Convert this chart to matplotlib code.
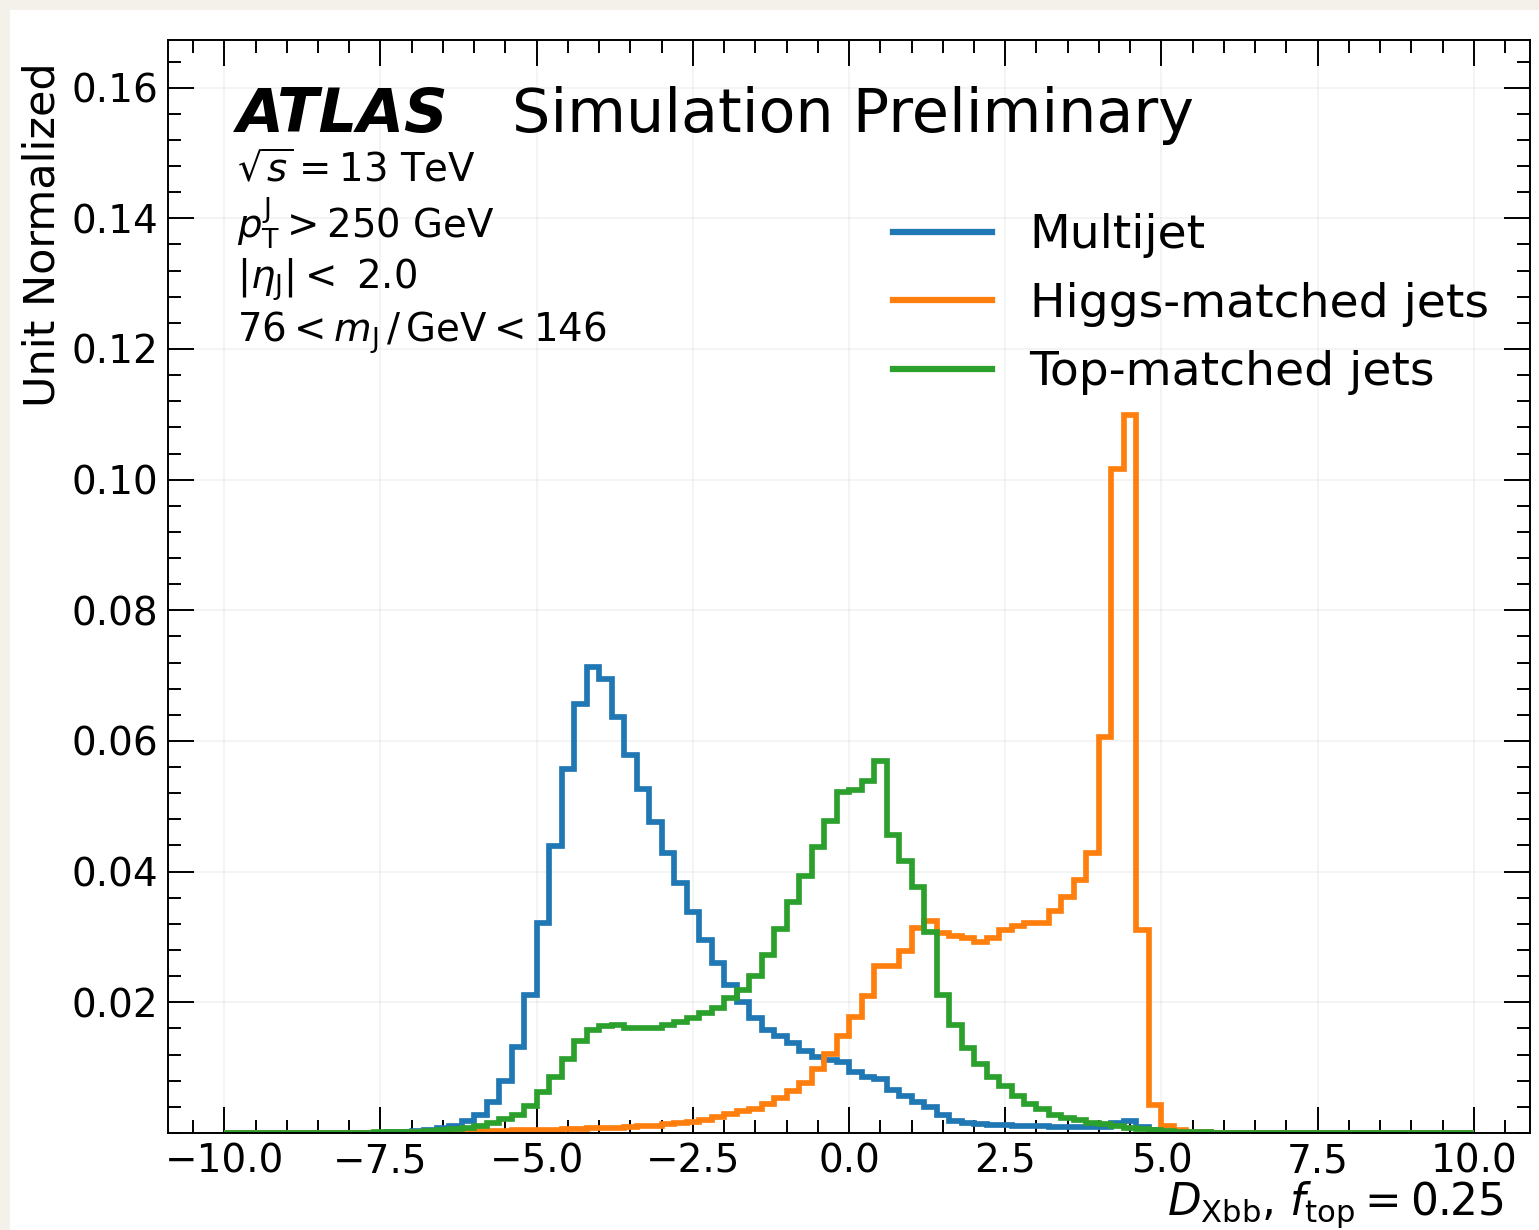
"""
D_Xbb discriminant distributions for multijet, Higgs- and top-matched jets.
"""

import numpy as np
import matplotlib
matplotlib.use("Agg")
import matplotlib.pyplot as plt
from matplotlib.ticker import MultipleLocator
from matplotlib.patches import Rectangle

# 100 bins of width 0.2 between -10 and 10 (unit normalized, sum = 1)
bin_lo, bin_hi, n_bins = -10.0, 10.0, 100

multijet = [
    0, 0, 0, 0, 0, 0, 0, 0, 0, 0,
    0.00002, 0.00003, 0.00005, 0.0001, 0.0002, 0.0003, 0.0005, 0.0008, 0.0011, 0.0018,
    0.0028, 0.0048, 0.0079, 0.0132, 0.0211, 0.0321, 0.0439, 0.0557, 0.0656, 0.0713,
    0.0695, 0.0636, 0.0579, 0.0527, 0.0476, 0.0428, 0.0382, 0.0338, 0.0296, 0.0260,
    0.0226, 0.0201, 0.0176, 0.0158, 0.0148, 0.0138, 0.0126, 0.0116, 0.0111, 0.0108,
    0.0094, 0.0086, 0.0082, 0.0066, 0.0057, 0.0047, 0.0039, 0.0027, 0.0019, 0.0016,
    0.0013, 0.0012, 0.0012, 0.0011, 0.0010, 0.0010, 0.0009, 0.0009, 0.0009, 0.0009,
    0.0009, 0.0016, 0.0018, 0.0009, 0.0004, 0.0002, 0.0001, 0.00005, 0.00002, 0,
    0, 0, 0, 0, 0, 0, 0, 0, 0, 0,
    0, 0, 0, 0, 0, 0, 0, 0, 0, 0,
]

higgs = [
    0, 0, 0, 0, 0, 0, 0, 0, 0, 0,
    0.00001, 0.00002, 0.00003, 0.00004, 0.00005, 0.0001, 0.0001, 0.0002, 0.0002, 0.0002,
    0.0003, 0.0003, 0.0003, 0.0004, 0.0004, 0.0005, 0.0005, 0.0006, 0.0006, 0.0007,
    0.0007, 0.0008, 0.0009, 0.0010, 0.0011, 0.0013, 0.0015, 0.0017, 0.0020, 0.0024,
    0.0029, 0.0033, 0.0037, 0.0045, 0.0053, 0.0064, 0.0077, 0.0098, 0.0121, 0.0148,
    0.0177, 0.0209, 0.0255, 0.0255, 0.0278, 0.0313, 0.0324, 0.0306, 0.0301, 0.0298,
    0.0293, 0.0298, 0.0310, 0.0317, 0.0322, 0.0322, 0.0339, 0.0361, 0.0387, 0.0428,
    0.0606, 0.1017, 0.1099, 0.0310, 0.0043, 0.0010, 0.0004, 0.0002, 0.0001, 0.00005,
    0.00002, 0, 0, 0, 0, 0, 0, 0, 0, 0,
    0, 0, 0, 0, 0, 0, 0, 0, 0, 0,
]

top = [
    0, 0, 0, 0, 0, 0, 0, 0, 0, 0,
    0.00003, 0.00005, 0.0001, 0.0001, 0.0002, 0.0002, 0.0003, 0.0005, 0.0006, 0.0008,
    0.0011, 0.0015, 0.0021, 0.0028, 0.0042, 0.0062, 0.0085, 0.0113, 0.0140, 0.0157,
    0.0164, 0.0165, 0.0161, 0.0160, 0.0161, 0.0165, 0.0170, 0.0176, 0.0183, 0.0191,
    0.0206, 0.0219, 0.0241, 0.0273, 0.0312, 0.0354, 0.0394, 0.0438, 0.0478, 0.0522,
    0.0525, 0.0539, 0.0570, 0.0456, 0.0417, 0.0377, 0.0308, 0.0211, 0.0165, 0.0130,
    0.0106, 0.0085, 0.0072, 0.0057, 0.0044, 0.0036, 0.0028, 0.0023, 0.0020, 0.0016,
    0.0013, 0.0011, 0.0008, 0.0006, 0.0005, 0.0003, 0.0002, 0.0001, 0.0001, 0.00005,
    0.00003, 0.00002, 0.00001, 0, 0, 0, 0, 0, 0, 0,
    0, 0, 0, 0, 0, 0, 0, 0, 0, 0,
]

labels = ["Multijet", "Higgs-matched jets", "Top-matched jets"]
colors = ["#1f77b4", "#ff7f0e", "#2ca02c"]

edges = np.linspace(bin_lo, bin_hi, n_bins + 1)

fig = plt.figure(figsize=(15.39, 12.30), dpi=100, facecolor="#f3f1e9")
# white page inside the outer margin
fig.patches.append(Rectangle((10 / 1539, 0), 1, 1 - 10 / 1230,
                             transform=fig.transFigure, facecolor="white",
                             edgecolor="none", zorder=-10))

ax = fig.add_axes([0.1092, 0.0789, 0.8850, 0.8886])

for vals, lab, col in zip([multijet, higgs, top], labels, colors):
    ax.stairs(vals, edges, color=col, linewidth=4.1, label=lab)

ax.set_xlim(-10.9, 10.9)
ax.set_ylim(0, 0.1673)
ax.set_xticks(np.arange(-10, 10.01, 2.5))
ax.set_yticks(np.arange(0.02, 0.161, 0.02))
ax.xaxis.set_minor_locator(MultipleLocator(0.5))
ax.yaxis.set_minor_locator(MultipleLocator(0.004))

ax.tick_params(which="both", direction="in", top=True, right=True,
               width=1.4, labelsize=28, pad=7)
ax.tick_params(which="major", length=18.5)
ax.tick_params(which="minor", length=9.5)
for sp in ax.spines.values():
    sp.set_linewidth(1.4)

ax.grid(True, which="major", color="#888888", alpha=0.1, linewidth=1.2)
ax.set_axisbelow(True)

# experiment label and selection
ax.text(0.0507, 0.9158, "ATLAS", transform=ax.transAxes, fontsize=43.7,
        fontweight="bold", fontstyle="italic", va="baseline")
ax.text(0.2526, 0.9158, "Simulation Preliminary", transform=ax.transAxes,
        fontsize=43.5, va="baseline")
info = [
    (0.871, r"$\sqrt{s} = 13$ TeV"),
    (0.818, r"$p_{\mathrm{T}}^{\mathrm{J}} > 250$ GeV"),
    (0.772, r"$|\eta_{\mathrm{J}}| <$ 2.0"),
    (0.7237, r"$76 < m_{\mathrm{J}}\,/\,\mathrm{GeV} < 146$"),
]
for ypos, txt in info:
    ax.text(0.0507, ypos, txt, transform=ax.transAxes, fontsize=27.8,
            va="baseline")

leg = ax.legend(loc="upper right", bbox_to_anchor=(0.9695, 0.8415),
                frameon=False, fontsize=34, borderaxespad=0, borderpad=0,
                handlelength=2.1, handletextpad=0.8, labelspacing=0.5)
for line in leg.get_lines():
    line.set_linewidth(4.5)

fig.text(43 / 1539, 1 - 62 / 1230, "Unit Normalized", rotation=90,
         fontsize=31, ha="center", va="top")
fig.text(1503 / 1539, 1 - 1205 / 1230,
         r"$D_{\mathrm{Xbb}}$, $f_{\mathrm{top}} = 0.25$",
         fontsize=31.5, ha="right", va="center")

fig.savefig("out.png", dpi=100, facecolor=fig.get_facecolor())
